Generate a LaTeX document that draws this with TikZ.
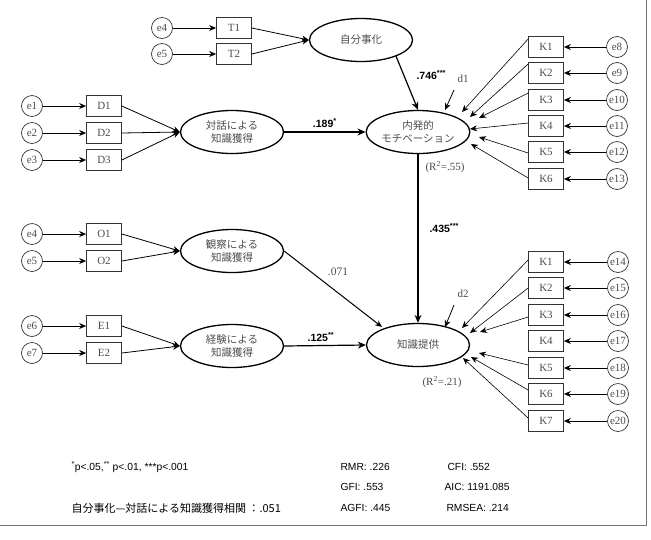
\documentclass[tikz,border=0pt]{standalone}
\usepackage{fontspec}
\setmainfont{Liberation Serif}
\newfontfamily\jp{Noto Sans CJK JP}
\newfontfamily\arial{Liberation Sans}
\usetikzlibrary{shapes.geometric,arrows.meta,calc}
\definecolor{txt}{gray}{0.3}
\begin{document}
\begin{tikzpicture}[x=1pt,y=-1pt,
  obs/.style={draw=black!80, rectangle, minimum width=35pt, minimum height=21pt, inner sep=0pt, line width=0.7pt, font=\fontsize{11}{12}\selectfont, text=txt},
  err/.style={draw=black!80, circle, minimum size=21pt, inner sep=0pt, line width=0.7pt, font=\fontsize{11}{12}\selectfont, text=txt},
  lat/.style={draw, ellipse, minimum width=103pt, minimum height=43pt, inner sep=0pt, line width=1.3pt, align=center, font=\jp\fontsize{10.5}{13}\selectfont, text=txt},
  tip/.style={-{Stealth[length=7pt,width=6pt]}, line width=0.8pt},
  ktip/.style={-{Stealth[length=7pt,width=6pt]}, line width=0.6pt},
  main/.style={-{Stealth[length=8pt,width=7pt]}, line width=1.2pt},
  coef/.style={font=\arial\bfseries\fontsize{10.5}{12}\selectfont},
  note/.style={font=\fontsize{11}{12}\selectfont, text=txt},
  foot/.style={anchor=west, font=\arial\fontsize{10.3}{12}\selectfont}]
\useasboundingbox (0,0) rectangle (651,539);
% frame
\draw[black!55, line width=1pt] (646,0) -- (646,525) -- (0,525);

% latent variables
\node[lat] (Self) at (361,40) {自分事化};
\node[lat] (Dia) at (232,132) {対話による\\知識獲得};
\node[lat] (Mot) at (418,132) {内発的\\モチベーション};
\node[lat] (Obs) at (232,251) {観察による\\知識獲得};
\node[lat] (Exp) at (232,346) {経験による\\知識獲得};
\node[lat] (Kno) at (418,345) {知識提供};

% T group
\node[obs] (T1) at (234,28) {T1};
\node[obs] (T2) at (234,54) {T2};
\node[err] (eT1) at (162,28) {e4};
\node[err] (eT2) at (162,54) {e5};
\draw[tip] (eT1) -- (T1);
\draw[tip] (eT2) -- (T2);
\draw[tip] (T1.east) -- (Self.west);
\draw[tip] (T2.east) -- (Self.west);

% D group
\node[obs] (D1) at (104,106) {D1};
\node[obs] (D2) at (104,133) {D2};
\node[obs] (D3) at (104,160) {D3};
\node[err] (e1) at (32,106) {e1};
\node[err] (e2) at (32,133) {e2};
\node[err] (e3) at (32,160) {e3};
\draw[tip] (e1) -- (D1);
\draw[tip] (e2) -- (D2);
\draw[tip] (e3) -- (D3);
\draw[tip] (D1.east) -- (Dia.west);
\draw[tip] (D2.east) -- (Dia.west);
\draw[tip] (D3.east) -- (Dia.west);

% O group
\node[obs] (O1) at (104,234) {O1};
\node[obs] (O2) at (104,261) {O2};
\node[err] (eO1) at (32,234) {e4};
\node[err] (eO2) at (32,261) {e5};
\draw[tip] (eO1) -- (O1);
\draw[tip] (eO2) -- (O2);
\draw[tip] (O1.east) -- (Obs.west);
\draw[tip] (O2.east) -- (Obs.west);

% E group
\node[obs] (E1) at (104,326) {E1};
\node[obs] (E2) at (104,353) {E2};
\node[err] (eE1) at (32,326) {e6};
\node[err] (eE2) at (32,353) {e7};
\draw[tip] (eE1) -- (E1);
\draw[tip] (eE2) -- (E2);
\draw[tip] (E1.east) -- (Exp.west);
\draw[tip] (E2.east) -- (Exp.west);

% structural paths
\draw[main] (Dia.east) -- node[coef, above, pos=0.5] {.189\textsuperscript{*}} (Mot.west);
\draw[main] (Self.-25) -- (Mot.north);
\node[coef, anchor=west] (c746) at (413,75) {.746\textsuperscript{***}};
\draw[main] (Mot.south) -- (Kno.north);
\node[coef, anchor=west] (c435) at (426,228) {.435\textsuperscript{***}};
\coordinate (obsTip) at (382,327);
\draw[tip, line width=1pt] (Obs.east) -- (obsTip);
\node[font=\fontsize{11.5}{12}\selectfont, text=txt] (c071) at (338,272) {.071};
\draw[main] (Exp.east) -- node[coef, above, pos=0.45] {.125\textsuperscript{**}} (Kno.west);

% disturbances
\node[note] (d1) at (463,79) {d1};
\coordinate (d1s) at (454,90);
\coordinate (d1e) at (445,110);
\draw[tip] (d1s) -- (d1e);
\node[note] (d2) at (463,294) {d2};
\coordinate (d2s) at (454,305);
\coordinate (d2e) at (445,327);
\draw[tip] (d2s) -- (d2e);
\node[note] (r1) at (445,167) {(R\textsuperscript{2}=.55)};
\node[note] (r2) at (442,382) {(R\textsuperscript{2}=.21)};

% K group (top)
\foreach \i/\y/\e/\o/\tx/\ty in {1/47/8/-8/462/112, 2/73/9/-9/470/117, 3/100/10/-7/479/118, 4/126/11/-3/470/129, 5/152/12/1/479/137, 6/179/13/-1/471/144} {
  \node[obs] (KA\i) at (546,\y) {K\i};
  \node[err] (eKA\i) at (617,\y) {e\e};
  \draw[tip] (eKA\i) -- (KA\i);
  \coordinate (ta\i) at (\tx,\ty);
  \draw[ktip] ($(KA\i.west)+(0,\o)$) -- (ta\i);
}

% K group (bottom)
\foreach \i/\y/\e in {1/262/14, 2/288/15, 3/315/16, 4/341/17, 5/368/18, 6/394/19, 7/421/20} {
  \node[obs] (KB\i) at (546,\y) {K\i};
  \node[err] (eKB\i) at (618,\y) {e\e};
  \draw[tip] (eKB\i) -- (KB\i);
}
\foreach \i/\o/\tx/\ty in {1/-2/462/328, 2/0/470/333, 3/2/480/332, 5/-3/479/353, 6/-4/471/357, 7/-3/463/358} {
  \coordinate (tb\i) at (\tx,\ty);
  \draw[ktip] ($(KB\i.west)+(0,\o)$) -- (tb\i);
}

% footer
\node[foot] (p) at (68,467) {\textsuperscript{*}p<.05,\textsuperscript{**} p<.01, ***p<.001};
\node[anchor=west, font=\jp\fontsize{11}{12}\selectfont] (corr) at (68,508) {自分事化—対話による知識獲得相関 ：.051};
\node[foot] (rmr) at (337,467) {RMR: .226};
\node[foot] (gfi) at (337,487) {GFI: .553};
\node[foot] (agfi) at (337,508) {AGFI: .445};
\node[foot] (cfi) at (444,467) {CFI: .552};
\node[foot] (aic) at (441,487) {AIC: 1191.085};
\node[foot] (rmsea) at (443,508) {RMSEA: .214};
\end{tikzpicture}
\end{document}
